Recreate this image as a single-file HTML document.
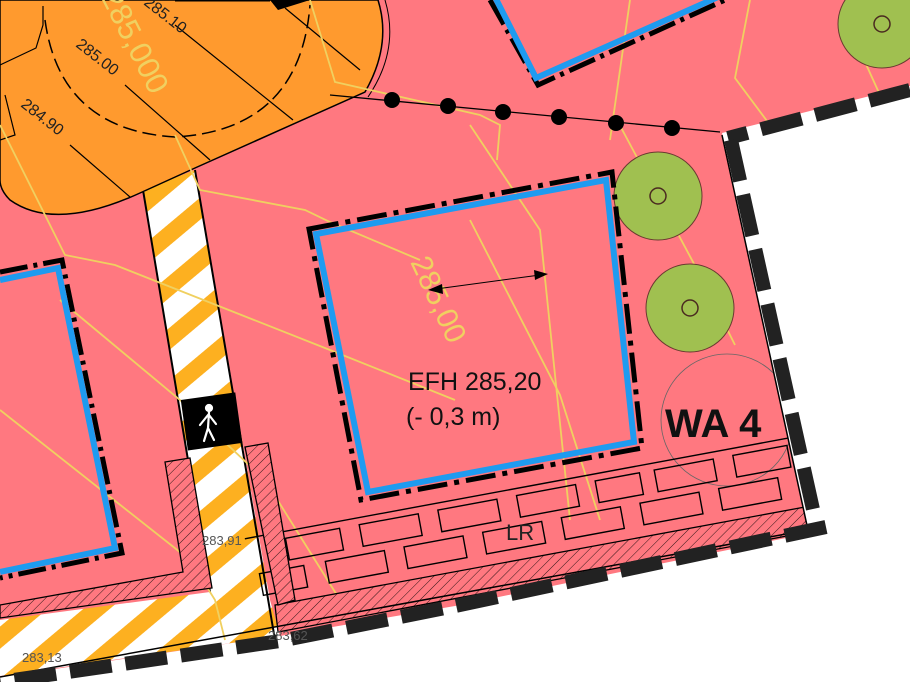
<!DOCTYPE html>
<html><head><meta charset="utf-8"><style>
html,body{margin:0;padding:0;background:#fff;overflow:hidden}
svg{display:block}
text{font-family:"Liberation Sans",sans-serif}
</style></head><body>
<svg width="910" height="682" viewBox="0 0 910 682" xmlns="http://www.w3.org/2000/svg">
<defs>
<pattern id="hatch" width="7" height="7" patternUnits="userSpaceOnUse" patternTransform="rotate(45)">
<rect width="7" height="7" fill="#ff7880"/><line x1="0" y1="0" x2="0" y2="7" stroke="#000" stroke-width="0.8"/>
</pattern>
<pattern id="stripe" width="40" height="40" patternUnits="userSpaceOnUse" patternTransform="rotate(-40)">
<rect width="40" height="40" fill="#fff"/><rect width="40" height="17" fill="#fdb020"/>
</pattern>
</defs>
<rect width="910" height="682" fill="#ff7880"/>
<!-- footpath stripes -->
<path d="M143,190 L195,170 L270,600 L280,636 L0,676 L0,620 L210,592 Z" fill="url(#stripe)"/>
<path d="M143,190 L210,592 M195,170 L275,640" stroke="#000" stroke-width="2" fill="none"/>
<!-- orange blob -->
<path d="M0,0 L378,0 Q392,45 365,92 L195,168 L140,193 Q55,232 10,200 Q0,190 0,180 Z" fill="#ff9a2e" stroke="#000" stroke-width="1.5"/>
<path d="M385,0 Q400,50 368,97" fill="none" stroke="#000" stroke-width="1"/>
<path d="M45,20 Q60,130 175,137 Q300,130 310,5" fill="none" stroke="#000" stroke-width="1.5" stroke-dasharray="14,6"/>
<path d="M175,0 L270,0" stroke="#000" stroke-width="3"/>
<polygon points="270,0 310,0 278,10" fill="#000"/>
<path d="M285,8 L360,70 M175,25 L293,120 M125,85 L210,160 M70,145 L130,197 M43,6 L43,25 L36,48 L0,65 M5,95 L15,135 L0,140" stroke="#000" stroke-width="1.2" fill="none"/>
<g font-size="16" fill="#222">
<text transform="translate(143,4) rotate(38)">285.10</text>
<text transform="translate(75,46) rotate(38)">285.00</text>
<text transform="translate(20,106) rotate(38)">284.90</text>
</g>
<text transform="translate(100,-4) rotate(63)" font-size="31" fill="#f0d060">285,000</text>
<!-- yellow contours -->
<g stroke="#f0d060" stroke-width="1.8" fill="none">
<path d="M0,125 L65,255 L115,265 L330,350 L455,400"/>
<path d="M175,135 L200,190 L305,210 L330,222 L420,260"/>
<path d="M0,410 L190,560 L215,600 L225,640"/>
<path d="M60,300 L180,400 L265,480 L340,600"/>
<path d="M310,0 L335,82 L480,115 L500,125 L497,160"/>
<path d="M630,0 L610,140"/>
<path d="M750,0 L735,78 L770,125 L790,130"/>
<path d="M470,125 L520,200 L540,230 L570,520"/>
<path d="M617,120 L700,275 L735,345"/>
<path d="M860,0 L855,40 L880,95"/>
<path d="M470,220 L560,395 L600,520"/>
</g>
<!-- top building -->
<polyline points="490,0 538,85 725,0" fill="none" stroke="#000" stroke-width="5" stroke-dasharray="28,6,4,6"/>
<polyline points="495,-3 536,78 718,-3" fill="none" stroke="#1e9bf0" stroke-width="6"/>
<!-- left building -->
<polyline points="0,272 62,260 122,553 0,578" fill="none" stroke="#000" stroke-width="5" stroke-dasharray="28,6,4,6"/>
<polyline points="0,280 58,268 115,548 0,572" fill="none" stroke="#1e9bf0" stroke-width="6"/>
<!-- dotted line -->
<polyline points="330,95 720,132" stroke="#000" stroke-width="1.3" fill="none"/>
<g fill="#000"><circle cx="392" cy="100" r="8"/><circle cx="448" cy="106" r="8"/><circle cx="503" cy="112" r="8"/><circle cx="559" cy="117" r="8"/><circle cx="616" cy="123" r="8"/><circle cx="672" cy="128" r="8"/></g>
<!-- trees -->
<g fill="#a0c050" stroke="#6a3a30" stroke-width="1"><circle cx="658" cy="196" r="44"/><circle cx="690" cy="308" r="44"/><circle cx="882" cy="24" r="44"/></g>
<g fill="none" stroke="#4a2a20" stroke-width="1.5"><circle cx="658" cy="196" r="8"/><circle cx="690" cy="308" r="8"/><circle cx="882" cy="24" r="8"/></g>
<circle cx="727" cy="420" r="66" fill="none" stroke="#666" stroke-width="0.8"/>
<!-- LR bricks -->
<g fill="none" stroke="#000" stroke-width="1.4" transform="rotate(-10.5 540 540)">
<line x1="250" y1="485" x2="825" y2="485"/>
<rect x="290" y="492" width="55" height="22"/><rect x="365" y="492" width="60" height="22"/><rect x="445" y="492" width="60" height="22"/>
<rect x="525" y="488" width="0" height="0"/>
<rect x="665" y="492" width="60" height="22"/><rect x="745" y="492" width="55" height="22"/>
<rect x="258" y="522" width="45" height="22"/><rect x="325" y="522" width="60" height="22"/><rect x="405" y="522" width="60" height="22"/><rect x="485" y="522" width="60" height="22"/><rect x="565" y="522" width="60" height="22"/><rect x="645" y="522" width="60" height="22"/><rect x="725" y="522" width="60" height="22"/>
<rect x="525" y="492" width="60" height="22"/><rect x="605" y="492" width="45" height="22"/>
</g>
<!-- hatched strips -->
<polygon points="275,605 805,507 808,532 278,632" fill="url(#hatch)" stroke="#000" stroke-width="1.3"/>
<polygon points="245,447 268,443 295,600 278,605" fill="url(#hatch)" stroke="#000" stroke-width="1.3"/>
<polygon points="165,462 190,458 212,588 0,618 0,605 183,572" fill="url(#hatch)" stroke="#000" stroke-width="1.3"/>
<!-- main building -->
<polygon points="309,229 612,172 642,448 361,500" fill="none" stroke="#000" stroke-width="5" stroke-dasharray="30,7,5,7"/>
<polygon points="316,234 606,180 634,442 368,492" fill="none" stroke="#1e9bf0" stroke-width="6"/>
<text transform="translate(410,262) rotate(65)" font-size="30" fill="#f0d060">285,00</text>
<g stroke="#000" stroke-width="1"><line x1="436" y1="289" x2="540" y2="275"/></g>
<polygon points="428,290 442,284 443,294" fill="#000"/>
<polygon points="548,274 534,270 535,280" fill="#000"/>
<text x="408" y="390" font-size="25" fill="#111">EFH 285,20</text>
<text x="406" y="425" font-size="25" fill="#111">(- 0,3 m)</text>
<text x="665" y="437" font-size="40" font-weight="bold" fill="#111">WA 4</text>
<text x="506" y="540" font-size="22" fill="#222">LR</text>
<!-- white outside -->
<polygon points="722,133 910,86 910,682 0,682 0,677 280,636 455,606 820,531 808,530" fill="#fff"/>
<polyline points="722,135 808,530 0,677" fill="none" stroke="#000" stroke-width="1.5"/>
<g fill="none" stroke="#222" stroke-width="14" stroke-dasharray="42,14">
<polyline points="910,90 728,138"/>
<polyline points="731,140 818,532"/>
<polyline points="826,527 455,606 280,641 0,682"/>
</g>
<!-- pedestrian sign -->
<rect x="184" y="396" width="55" height="51" fill="#000" transform="rotate(-8 211 421)"/>
<g stroke="#fff" stroke-width="2.2" fill="none" stroke-linecap="round">
<circle cx="209" cy="408" r="3" fill="#fff"/>
<path d="M209,412 L208,428 M208,428 L204,441 M208,428 L214,440 M208,415 L200,425 M209,415 L216,424"/>
</g>
<g font-size="13" fill="#555">
<text x="202" y="545">283,91</text>
<text x="268" y="640">283,62</text>
<text x="22" y="662">283,13</text>
</g>
</svg>
</body></html>
